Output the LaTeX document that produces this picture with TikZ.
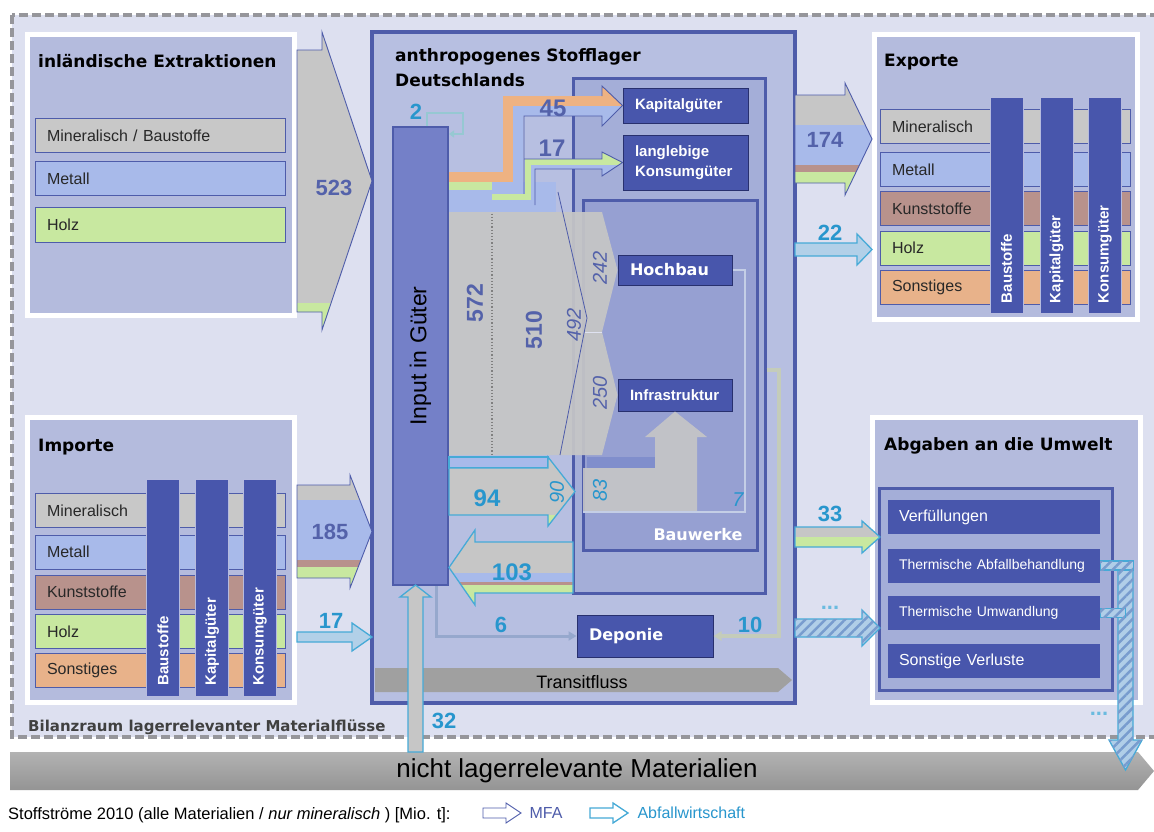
\documentclass[tikz,border=0pt]{standalone}
\usepackage{fontspec}
\setmainfont{Liberation Sans}
\newfontfamily\vfont{DejaVu Sans}
\usetikzlibrary{arrows.meta,patterns.meta}
\definecolor{cbg}{RGB}{221,224,240}
\definecolor{cdash}{RGB}{150,150,155}
\definecolor{cpanel}{RGB}{180,187,221}
\definecolor{cstock}{RGB}{183,191,225}
\definecolor{csub}{RGB}{164,174,216}
\definecolor{cbauw}{RGB}{150,160,210}
\definecolor{cbord}{RGB}{78,92,170}
\definecolor{cnode}{RGB}{72,86,172}
\definecolor{cndark}{RGB}{40,48,110}
\definecolor{cinput}{RGB}{116,128,200}
\definecolor{cgray}{RGB}{198,198,198}
\definecolor{cmin}{RGB}{200,200,200}
\definecolor{cmet}{RGB}{168,186,234}
\definecolor{cmetd}{RGB}{128,142,204}
\definecolor{cwood}{RGB}{200,232,160}
\definecolor{cplast}{RGB}{184,146,140}
\definecolor{cother}{RGB}{232,178,138}
\definecolor{cor}{RGB}{238,178,130}
\definecolor{ctext}{RGB}{40,40,40}
\definecolor{cnum}{RGB}{84,98,170}
\definecolor{cteal}{RGB}{40,150,205}
\definecolor{cabf}{RGB}{70,170,215}
\definecolor{clight}{RGB}{178,208,232}
\definecolor{chatch}{RGB}{176,206,232}
\definecolor{chatchd}{RGB}{120,156,206}
\definecolor{ctrans}{RGB}{160,160,160}
\definecolor{csix}{RGB}{150,168,205}
\definecolor{cten}{RGB}{196,204,186}
\definecolor{cseven}{RGB}{196,206,230}
\definecolor{cloop}{RGB}{150,200,210}
\newcommand\fsz[1]{\fontsize{#1}{#1}\selectfont}

\begin{document}
\begin{tikzpicture}[x=1pt, y=-1pt,
  font=\fsz{16},
  panel/.style={draw=white, line width=5pt, fill=cpanel},
  ttl/.style={font=\vfont\bfseries\fsz{17}, text=black, inner sep=0pt},
  bar/.style={draw=cbord, line width=0.8pt, minimum height=34pt, text width=226pt, inner xsep=12pt, align=left, font=\fsz{16}, text=ctext},
  vbar/.style={draw=white!60!cnode, line width=0.8pt, fill=cnode, rotate=90, minimum width=216pt, minimum height=33pt, text width=196pt, inner xsep=10pt, align=left, text=white, font=\bfseries\fsz{15}},
  boxln/.style={draw=cbord, line width=3pt},
  dnode/.style={fill=cnode, draw=cndark, line width=1pt, text=white, font=\bfseries\fsz{15}, align=left, inner xsep=12pt},
  lossbox/.style={fill=cnode, minimum width=212pt, minimum height=34pt, text width=190pt, inner xsep=11pt, align=left, text=white, font=\fsz{16}},
  mfa/.style={draw=cbord, line width=0.9pt},
  abf/.style={draw=cabf, line width=1.3pt},
  hatch/.style={fill=chatch, postaction={pattern={Lines[angle=45, distance=7pt, line width=2.5pt]}, pattern color=chatchd}},
  numb/.style={font=\bfseries\fsz{22}, text=cnum},
  tnum/.style={font=\bfseries\fsz{22}, text=cteal},
  inum/.style={font=\itshape\fsz{20}, text=cnum, rotate=90},
  tinum/.style={font=\itshape\fsz{20}, text=cteal, rotate=90},
  flowtip/.style={-{Triangle[length=8pt, width=9pt]}},
  rarr/.style n args={6}{insert path={(#1,#4) -- (#2,#4) -- (#2,#4-#6) -- (#3,{(#4+#5)/2}) -- (#2,#5+#6) -- (#2,#5) -- (#1,#5) -- cycle}},
  uarr/.style n args={6}{insert path={(#4,#1) -- (#4,#2) -- (#4-#6,#2) -- ({(#4+#5)/2},#3) -- (#5+#6,#2) -- (#5,#2) -- (#5,#1) -- cycle}}
]
\useasboundingbox (0,0) rectangle (1154,831);
\fill[white] (0,0) rectangle (1154,831);
% balance space
\fill[cbg] (12,15) rectangle (1170,737);
\draw[draw=cdash, line width=4pt, dash pattern=on 9pt off 4pt] (12,15) rectangle (1170,737);
\node[font=\vfont\bfseries\fsz{15}, text=black!75, inner sep=0pt, anchor=base west] (bilanz) at (28,731) {Bilanzraum lagerrelevanter Materialflüsse};

% --- domestic extraction ---
\node[panel, minimum width=267, minimum height=281] (ext) at (161,175) {};
\node[ttl, anchor=base west] (extttl) at (38,67) {inländische Extraktionen};
\node[bar, fill=cmin] (extmin) at (160,135.5) {Mineralisch / Baustoffe};
\node[bar, fill=cmet] (extmet) at (160,178.5) {Metall};
\node[bar, fill=cwood, minimum height=35] (extholz) at (160,224.5) {Holz};

% --- imports ---
\node[panel, minimum width=267, minimum height=285] (imp) at (161,560) {};
\node[ttl, anchor=base west] (impttl) at (38,451) {Importe};
\foreach \t/\c/\y [count=\i] in {Mineralisch/cmin/510.5, Metall/cmet/552, Kunststoffe/cplast/592, Holz/cwood/631.5, Sonstiges/cother/670.5}
  \node[bar, fill=\c] (imp\i) at (160,\y) {\t};
\foreach \t/\x [count=\i] in {Baustoffe/163, Kapitalgüter/212, Konsumgüter/260}
  \node[vbar, minimum width=217] (impv\i) at (\x,587.5) {\t};

% --- exports ---
\node[panel, minimum width=263, minimum height=285] (exp) at (1006,177) {};
\node[ttl, anchor=base west] (expttl) at (884,66) {Exporte};
\foreach \t/\c/\y [count=\i] in {Mineralisch/cmin/126.5, Metall/cmet/169.5, Kunststoffe/cplast/208.5, Holz/cwood/248, Sonstiges/cother/287.5}
  \node[bar, fill=\c] (exp\i) at (1005,\y) {\t};
\foreach \t/\x [count=\i] in {Baustoffe/1006.5, Kapitalgüter/1056.5, Konsumgüter/1105}
  \node[vbar] (expv\i) at (\x,205) {\t};

% --- releases to the environment ---
\node[panel, minimum width=268, minimum height=285] (abg) at (1006.5,560) {};
\node[ttl, anchor=base west] (abgttl) at (884,450) {Abgaben an die Umwelt};
\node[boxln, fill=csub, minimum width=233, minimum height=202] (abgin) at (995.5,589) {};
\node[lossbox] (verf) at (994,517) {Verfüllungen};
\node[lossbox, font=\fsz{14}] (abh) at (994,565.5) {Thermische Abfallbehandlung};
\node[lossbox, font=\fsz{14}] (umw) at (994,613) {Thermische Umwandlung};
\node[lossbox] (sonst) at (994,661) {Sonstige Verluste};

% --- anthropogenic stock ---
\node[draw=cbord, line width=4pt, fill=cstock, minimum width=423, minimum height=671] (stock) at (583.5,367.5) {};
\node[ttl, font=\vfont\bfseries\fontsize{17}{25}\selectfont, anchor=north west, align=left] (stockttl) at (395,48) {anthropogenes Stofflager\\Deutschlands};
\node[boxln, fill=csub, minimum width=192, minimum height=515] (sub) at (669,335.5) {};
\node[boxln, fill=cbauw, minimum width=174, minimum height=350] (bauw) at (670,375) {};
\node[font=\vfont\bfseries\fsz{16}, text=white, anchor=east] (bauwlbl) at (746,535) {Bauwerke};
\node[dnode, text width=101, minimum height=35] (kap) at (685.5,105.5) {Kapitalgüter};
\node[dnode, text width=101, minimum height=55, font=\bfseries\fontsize{15}{20}\selectfont] (kons) at (685.5,162.5) {langlebige\\Konsumgüter};
\node[dnode, text width=90, minimum height=30, font=\vfont\bfseries\fsz{16}] (hoch) at (675,270) {Hochbau};
\node[dnode, text width=90, minimum height=32] (infra) at (675,395) {Infrastruktur};
\node[dnode, text width=112, minimum height=42, font=\vfont\bfseries\fsz{16}] (depo) at (645,636) {Deponie};
\node[draw=cbord, line width=2pt, fill=cinput, minimum width=55, minimum height=458] (input) at (420.5,356) {};
\node[rotate=90, font=\fsz{23}] (inlbl) at (input.center) {Input in Güter};
\fill[ctrans, rarr={375}{778}{792}{668}{692}{0}];
\node[font=\fsz{18}] (transit) at (582,682) {Transitfluss};

% building materials block 572 -> 510 -> 492
\fill[cgray, opacity=.93] (449,212) -- (602,212) -- (hoch.west) -- (602,332) -- (infra.west) -- (602,455) -- (449,455) -- cycle;
\draw[cbord, line width=.8pt] (558,192) -- (587,318) -- (560,455);
\draw[white!70!cbauw, line width=1pt] (585,332) -- (602,332);
\draw[gray, dotted, line width=1.2pt] (492,172) -- (492,455);
\node[numb, rotate=90, font=\bfseries\fsz{23}] (n572) at (475,303) {572};
\node[numb, rotate=90, font=\bfseries\fsz{23}] (n510) at (534,330) {510};
\node[inum] (n492) at (574,325) {492};
\node[inum] (n242) at (600,268) {242};
\node[inum] (n250) at (600,393) {250};

% goods bands 45 / 17
\fill[cwood] (449,182) rectangle (492,190);
\fill[cmet] (449,190) rectangle (492,212);
\fill[cmet] (492,182) rectangle (556,212);
\draw[line width=10pt, cor] (449,177) -| (508,101) -- (603,101);
\draw[line width=10pt, cmet] (492,187) -| (518,111) -- (603,111);
\begin{scope}
  \clip (602,86) -- (kap.west) -- (602,126) -- cycle;
  \fill[cor] (600,80) rectangle (625,106);
  \fill[cmet] (600,106) rectangle (625,130);
\end{scope}
\draw[mfa] (602,96) -- (602,86) -- (kap.west) -- (602,126) -- (602,116) -- (524,116) -- (524,200);
\draw[line width=6pt, cwood] (492,197) -| (528,162) -- (603,162);
\draw[line width=4pt, cmet] (492,202) -| (533,167) -- (603,167);
\begin{scope}
  \clip (602,152) -- (kons.west) -- (602,176) -- cycle;
  \fill[cwood] (600,150) rectangle (625,165);
  \fill[cmet] (600,165) rectangle (625,180);
\end{scope}
\draw[mfa] (524,159) -- (602,159) -- (602,152) -- (kons.west) -- (602,176) -- (602,169) -- (535,169) -- (535,205);
\node[numb, font=\bfseries\fsz{24}] (n45) at (553,108) {45};
\node[numb, font=\bfseries\fsz{24}] (n17a) at (552,148) {17};
\draw[cloop, line width=2.5pt, -{Triangle[length=5pt, width=7pt]}] ([xshift=6.5]input.north) |- (463,113) |- ([yshift=-8]input.north east);
\node[tnum] (n2) at (416,112) {2};

% recycling into buildings 94 / 83 / 7
\fill[cmet] (449,457) rectangle (548,468);
\draw[abf] (449,457) rectangle (548,468);
\fill[cmetd] (587,457) rectangle (655,468);
\begin{scope}
  \clip[rarr={449}{548}{575}{468}{515}{11}];
  \fill[cgray] (440,440) rectangle (580,515);
  \fill[cwood] (440,515) rectangle (580,540);
\end{scope}
\draw[abf, rarr={449}{548}{575}{468}{515}{11}];
\fill[cgray, opacity=.9] (583,468) -- (655,468) -- (655,437) -- (645,437) -- (infra.south) -- (707,437) -- (697,437) -- (697,511) -- (583,511) -- cycle;
\draw[cseven, line width=2pt] (hoch.east) -| (745,512) -- (583,512);
\node[tnum, font=\bfseries\fsz{24}] (n94) at (487,498) {94};
\node[tinum] (n90) at (557,492) {90};
\node[tinum] (n83) at (600,490) {83};
\node[font=\itshape\fsz{20}, text=cteal] (n7) at (738,500) {7};

% waste flow 103 back to input
\begin{scope}
  \clip[rarr={573}{475}{449}{542}{593}{12}];
  \fill[cgray] (440,520) rectangle (580,573);
  \fill[cmet] (440,573) rectangle (580,582);
  \fill[cplast] (440,582) rectangle (580,585);
  \fill[cwood] (440,585) rectangle (580,610);
\end{scope}
\draw[abf, rarr={573}{475}{449}{542}{593}{12}];
\node[tnum, font=\bfseries\fsz{24}] (n103) at (512,572) {103};

% landfill
\draw[csix, line width=3pt, flowtip] ([xshift=16]input.south) |- (depo.west);
\draw[cten, line width=4pt, flowtip] ([yshift=-34.5]sub.east) -| ([xshift=65]depo.east) -- (depo.east);
\node[tnum] (n6) at (501,625) {6};
\node[tnum] (n10) at (750,625) {10};

% inflows
\begin{scope}
  \clip[rarr={297}{322}{372}{50}{312}{18}];
  \fill[cgray] (290,20) rectangle (380,303);
  \fill[cwood] (290,303) rectangle (380,340);
\end{scope}
\draw[mfa, rarr={297}{322}{372}{50}{312}{18}];
\node[numb] (n523) at (334,188) {523};
\begin{scope}
  \clip[rarr={297}{350}{372}{485}{578}{10}];
  \fill[cgray] (290,470) rectangle (380,500);
  \fill[cmet] (290,500) rectangle (380,560);
  \fill[cplast] (290,560) rectangle (380,567);
  \fill[cwood] (290,567) rectangle (380,595);
\end{scope}
\draw[mfa, rarr={297}{350}{372}{485}{578}{10}];
\node[numb] (n185) at (330,532) {185};
\draw[abf, fill=clight, rarr={297}{352}{372}{632}{642}{9}];
\node[tnum] (n17b) at (331,621) {17};

% outflows
\begin{scope}
  \clip[rarr={795}{845}{872}{95}{183}{12}];
  \fill[cgray] (790,80) rectangle (880,125);
  \fill[cmet] (790,125) rectangle (880,165);
  \fill[cplast] (790,165) rectangle (880,172);
  \fill[cwood] (790,172) rectangle (880,200);
\end{scope}
\draw[mfa, rarr={795}{845}{872}{95}{183}{12}];
\node[numb] (n174) at (825,140) {174};
\draw[abf, fill=clight, rarr={795}{857}{872}{243}{256}{9}];
\node[tnum] (n22) at (830,233) {22};
\begin{scope}
  \clip[rarr={795}{862}{880}{527}{547}{6}];
  \fill[cgray] (790,515) rectangle (885,537);
  \fill[cwood] (790,537) rectangle (885,560);
\end{scope}
\draw[abf, rarr={795}{862}{880}{527}{547}{6}];
\node[tnum] (n33) at (830,514) {33};
\draw[abf, hatch, rarr={795}{862}{880}{619}{637}{9}];
\node[tnum, text=cabf!80!white] (ndots1) at (830,608) {...};

% non-stock materials
\shade[top color=black!30, bottom color=black!42, rarr={10}{1138}{1154}{752}{790}{0}];
\node[font=\fsz{26}] (nonstock) at (577,771) {nicht lagerrelevante Materialien};
\draw[abf, fill=cgray, uarr={752}{597}{585}{408}{423}{8}];
\node[tnum] (n32) at (444,721) {32};
\draw[abf, hatch, uarr={561}{740}{770}{1118}{1133}{9}];
\draw[abf, hatch] ([yshift=4.5]abh.east) rectangle ++(33,9);
\draw[abf, hatch] ([yshift=4.5]umw.east) rectangle ++(25,9);
\node[tnum, text=cabf!80!white] (ndots2) at (1099,714) {...};

% legend
\node[font=\fsz{16.5}, inner sep=0pt, anchor=base west] (leg) at (8,819) {Stoffströme 2010 (alle Materialien / \textit{nur mineralisch} ) [Mio. t]:};
\draw[mfa, fill=white, rarr={483}{506}{521}{808}{818}{5}];
\node[font=\fsz{16}, text=cbord, anchor=west] (legmfa) at (526,813) {MFA};
\draw[abf, fill=white, rarr={590}{613}{628}{808}{818}{5}];
\node[font=\fsz{16}, text=cteal, anchor=west] (legabf) at (634,813) {Abfallwirtschaft};
\end{tikzpicture}
\end{document}
